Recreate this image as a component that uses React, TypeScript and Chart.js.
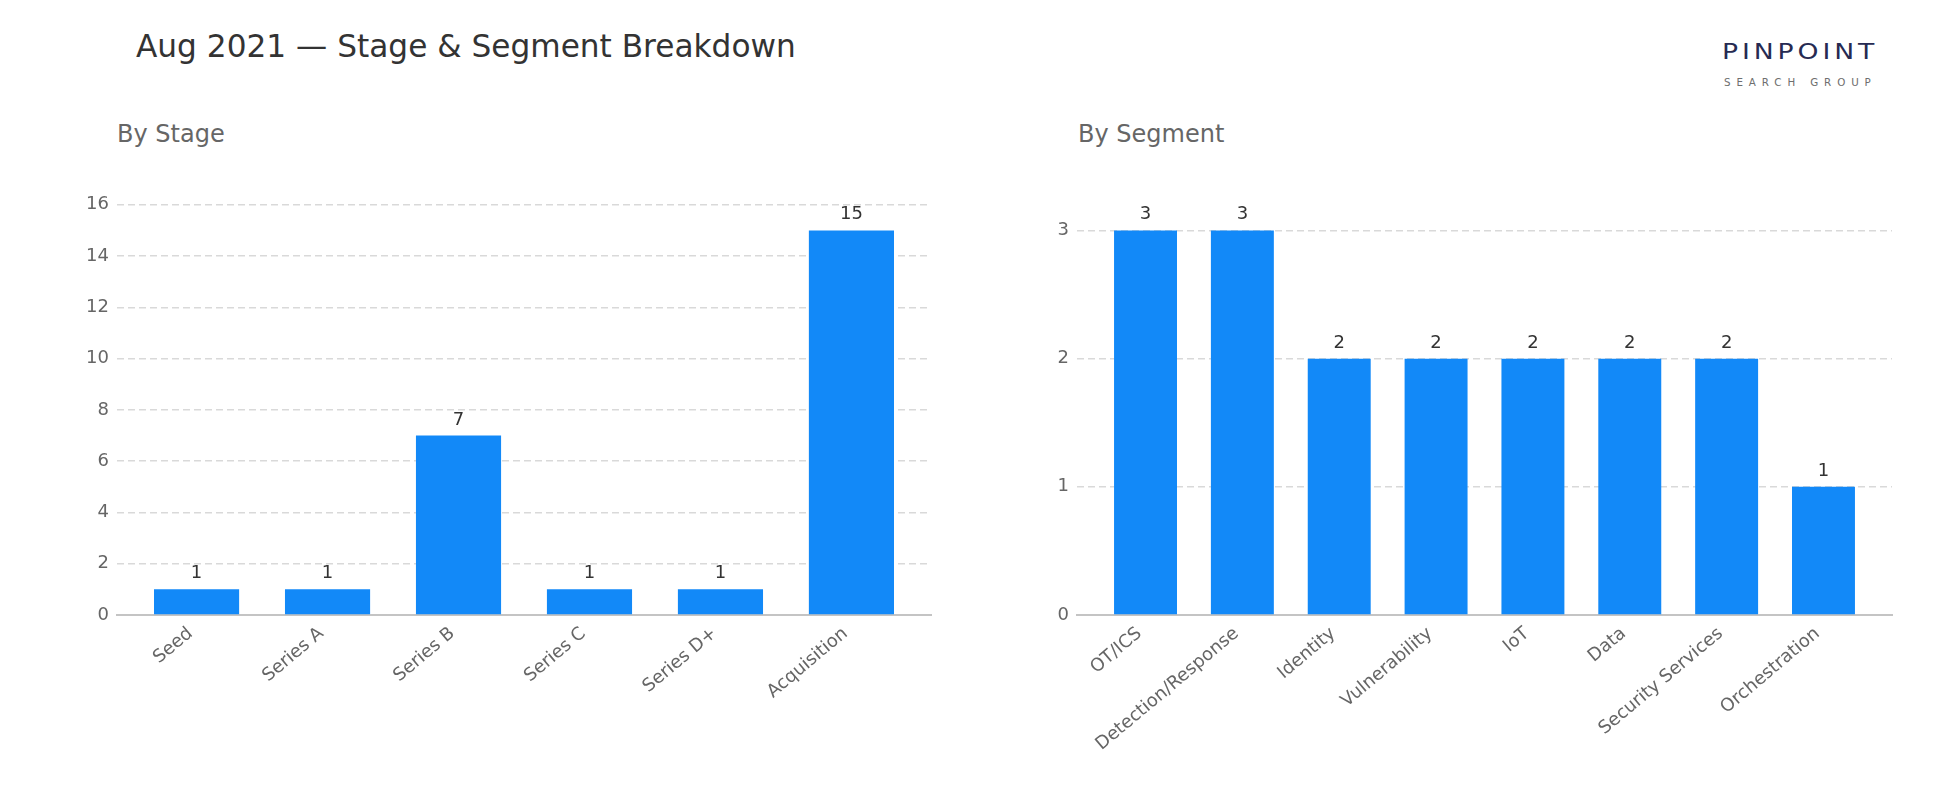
import React, { useEffect, useRef } from "react";
import { Chart, registerables } from "chart.js";

Chart.register(...registerables);

const TITLE = "Aug 2021 — Stage & Segment Breakdown";
const STAGE_TITLE = "By Stage";
const SEGMENT_TITLE = "By Segment";

const stageLabels = ["Seed", "Series A", "Series B", "Series C", "Series D+", "Acquisition"];
const stageValues = [1, 1, 7, 1, 1, 15];
const stageTicks = [0, 2, 4, 6, 8, 10, 12, 14, 16];
const stageYMax = 16.5;

const segmentLabels = [
  "OT/ICS",
  "Detection/Response",
  "Identity",
  "Vulnerability",
  "IoT",
  "Data",
  "Security Services",
  "Orchestration",
];
const segmentValues = [3, 3, 2, 2, 2, 2, 2, 1];
const segmentTicks = [0, 1, 2, 3];
const segmentYMax = 3.3;

const BAR_COLOR = "#1289F8";
const FONT = "'DejaVu Sans', sans-serif";
const BAR_WIDTH = 0.65;

const valueLabelPlugin = {
  id: "valueLabels",
  afterDatasetsDraw(chart: any) {
    const ctx = chart.ctx;
    const meta = chart.getDatasetMeta(0);
    const data = chart.data.datasets[0].data;
    ctx.save();
    ctx.font = `18px ${FONT}`;
    ctx.fillStyle = "#333333";
    ctx.textAlign = "center";
    ctx.textBaseline = "alphabetic";
    meta.data.forEach((bar: any, i: number) => {
      ctx.fillText(String(data[i].y), bar.x, bar.y - 11);
    });
    ctx.restore();
  },
};

function makeConfig(
  labels: string[],
  values: number[],
  ticks: number[],
  yMax: number,
  yAxisWidth: number,
  rightPad: number
): any {
  const n = labels.length;
  const margin = (n - 1 + BAR_WIDTH) * 0.05 + BAR_WIDTH / 2;
  return {
    type: "bar",
    data: {
      datasets: [
        {
          data: values.map((v, i) => ({ x: i, y: v })),
          backgroundColor: BAR_COLOR,
          borderWidth: 0,
          barPercentage: BAR_WIDTH,
          categoryPercentage: 1,
        },
      ],
    },
    options: {
      animation: false,
      responsive: false,
      maintainAspectRatio: false,
      devicePixelRatio: 1,
      layout: { padding: { left: 0, right: rightPad, top: 42, bottom: 0 } },
      plugins: {
        legend: { display: false },
        tooltip: { enabled: false },
        title: { display: false },
      },
      scales: {
        x: {
          type: "linear",
          offset: false,
          min: -margin,
          max: n - 1 + margin,
          afterBuildTicks: (s: any) => {
            s.ticks = labels.map((_, i) => ({ value: i }));
          },
          afterFit: (s: any) => {
            s.height = 195;
          },
          ticks: {
            autoSkip: false,
            minRotation: 40,
            maxRotation: 40,
            padding: 8,
            labelOffset: -6,
            color: "#666666",
            font: { family: FONT, size: 18 },
            callback: (v: any) => labels[v] ?? "",
          },
          grid: { display: false, drawTicks: false, offset: false },
          border: { display: true, color: "#c4c4c4", width: 2 },
        },
        y: {
          type: "linear",
          min: 0,
          max: yMax,
          afterBuildTicks: (s: any) => {
            s.ticks = ticks.map((v) => ({ value: v }));
          },
          afterFit: (s: any) => {
            s.width = yAxisWidth;
          },
          ticks: {
            padding: 8,
            color: "#666666",
            font: { family: FONT, size: 18 },
          },
          grid: { color: "#d9d9d9", lineWidth: 1.4, drawTicks: false },
          border: { display: false, dash: [7, 4] },
        },
      },
    },
    plugins: [valueLabelPlugin],
  };
}

function BarChart(props: {
  labels: string[];
  values: number[];
  ticks: number[];
  yMax: number;
  yAxisWidth: number;
  rightPad: number;
  left: number;
}) {
  const ref = useRef<HTMLCanvasElement | null>(null);
  useEffect(() => {
    if (!ref.current) return;
    const chart = new Chart(
      ref.current,
      makeConfig(props.labels, props.values, props.ticks, props.yMax, props.yAxisWidth, props.rightPad)
    );
    return () => chart.destroy();
  }, []);
  return (
    <canvas
      ref={ref}
      width={975}
      height={660}
      style={{ position: "absolute", left: props.left, top: 150, width: 975, height: 660 }}
    />
  );
}

const textBase: React.CSSProperties = {
  position: "absolute",
  fontFamily: FONT,
  lineHeight: 1,
  whiteSpace: "nowrap",
};

export default function App() {
  useEffect(() => {
    document.body.style.margin = "0";
    document.body.style.background = "#ffffff";
  }, []);
  return (
    <div style={{ position: "relative", width: 1950, height: 810, background: "#ffffff", overflow: "hidden" }}>
      <div style={{ ...textBase, left: 136, top: 31, fontSize: 31.2, color: "#333333" }}>{TITLE}</div>
      <div style={{ ...textBase, left: 117, top: 122, fontSize: 24, color: "#666666" }}>{STAGE_TITLE}</div>
      <div style={{ ...textBase, left: 1078, top: 122, fontSize: 24, color: "#666666" }}>{SEGMENT_TITLE}</div>
      <div
        style={{
          ...textBase,
          left: 1722,
          top: 42,
          fontSize: 20.5,
          letterSpacing: 3,
          color: "#262a52",
          transform: "scaleX(1.3)",
          transformOrigin: "0 0",
        }}
      >
        PINPOINT
      </div>
      <div
        style={{
          ...textBase,
          left: 1724,
          top: 77,
          fontSize: 10.3,
          letterSpacing: 5.9,
          color: "#6e6e6e",
        }}
      >
        SEARCH GROUP
      </div>
      <BarChart
        labels={stageLabels}
        values={stageValues}
        ticks={stageTicks}
        yMax={stageYMax}
        yAxisWidth={117}
        rightPad={44}
        left={0}
      />
      <BarChart
        labels={segmentLabels}
        values={segmentValues}
        ticks={segmentTicks}
        yMax={segmentYMax}
        yAxisWidth={102}
        rightPad={58}
        left={975}
      />
    </div>
  );
}
